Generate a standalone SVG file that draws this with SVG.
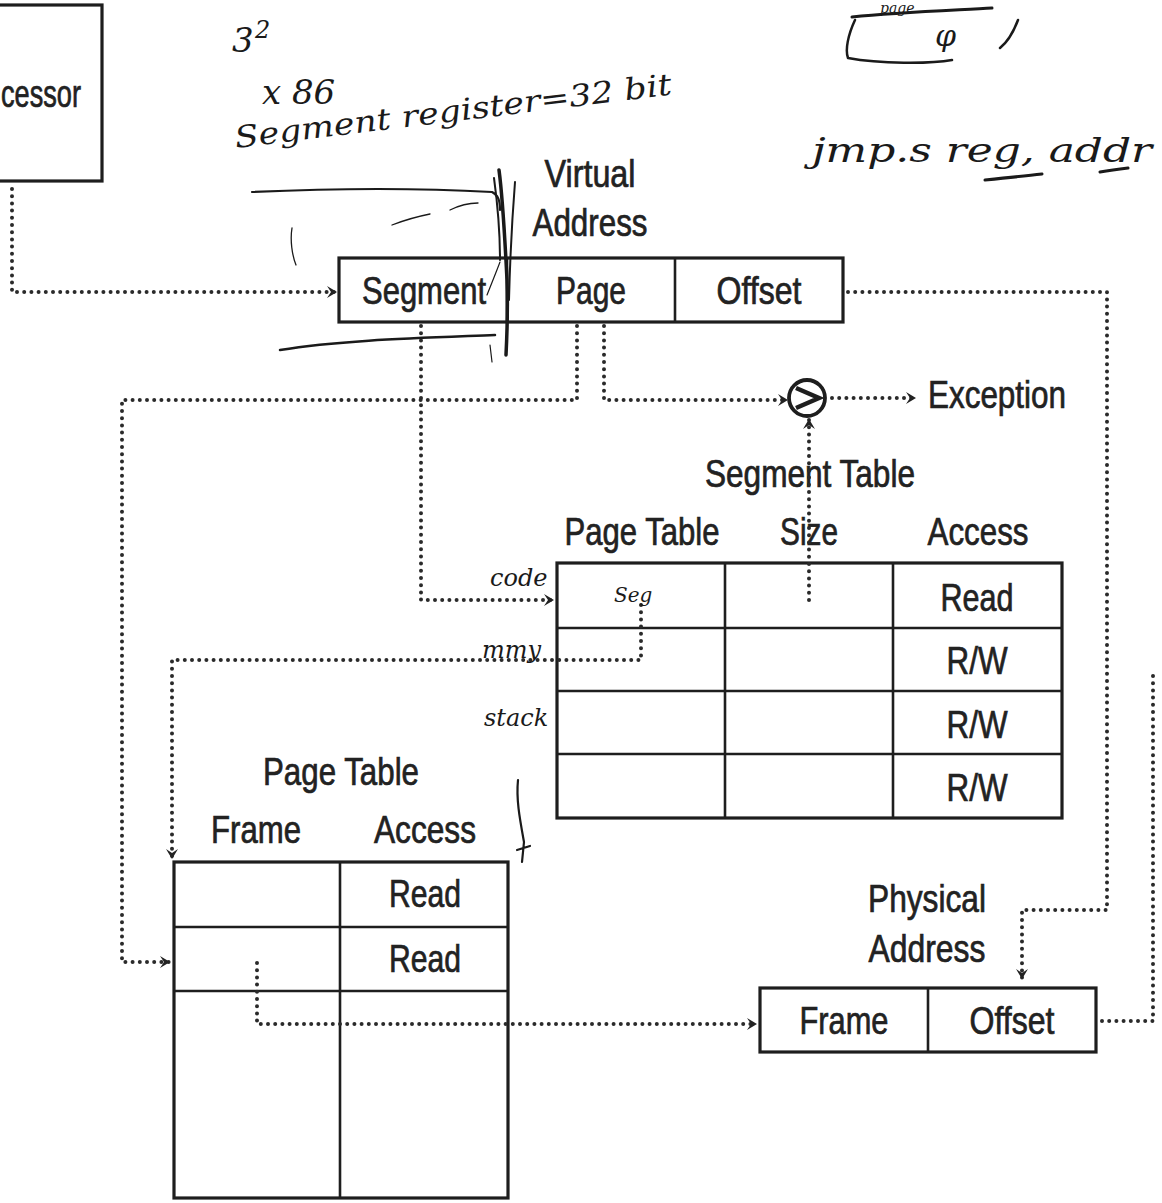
<svg xmlns="http://www.w3.org/2000/svg" width="1162" height="1203" viewBox="0 0 1162 1203">
<defs>
<style>
.box{fill:none;stroke:#1e1e1e;stroke-width:3.2}
.ln{stroke:#1e1e1e;stroke-width:2.6}
.t{font-family:"Liberation Sans",Arial,sans-serif;font-size:38px;fill:#222;text-anchor:middle;stroke:#222;stroke-width:0.7}
.dot{fill:none;stroke:#2a2a2a;stroke-width:4;stroke-dasharray:0 7.2;stroke-linecap:round;stroke-linejoin:round}
.hw{font-family:"DejaVu Serif","Liberation Serif",serif;font-style:italic;fill:#1a1a1a}
.sc{fill:none;stroke:#1a1a1a;stroke-linecap:round}
</style>
<marker id="ah" markerUnits="userSpaceOnUse" markerWidth="14" markerHeight="14" refX="10" refY="6" orient="auto">
<path d="M0,0 L10,6 L0,12 L4,6 Z" fill="#222"/>
</marker>
</defs>
<rect width="1162" height="1203" fill="#fff"/>

<g id="processor">
<rect class="box" x="-30" y="5" width="132" height="176"/>
<text class="t" x="1" y="107" style="text-anchor:start" textLength="80" lengthAdjust="spacingAndGlyphs">cessor</text>
</g>

<g id="virtual-address">
<text class="t" x="590" y="187" textLength="91" lengthAdjust="spacingAndGlyphs">Virtual</text>
<text class="t" x="590" y="236" textLength="115" lengthAdjust="spacingAndGlyphs">Address</text>
<rect class="box" x="339" y="258" width="504" height="64"/>
<line class="ln" x1="507" y1="258" x2="507" y2="322"/>
<line class="ln" x1="675" y1="258" x2="675" y2="322"/>
<text class="t" x="424" y="304" textLength="124" lengthAdjust="spacingAndGlyphs">Segment</text>
<text class="t" x="591" y="304" textLength="70" lengthAdjust="spacingAndGlyphs">Page</text>
<text class="t" x="759" y="304" textLength="85" lengthAdjust="spacingAndGlyphs">Offset</text>
</g>

<g id="comparator">
<circle cx="807" cy="398" r="18" fill="#fff" stroke="#1e1e1e" stroke-width="3.8"/>
<path d="M796,388 L819,398 L796,408" fill="none" stroke="#1e1e1e" stroke-width="4.5" stroke-linejoin="miter"/>
</g>

<g id="exception">
<text class="t" x="928" y="408" style="text-anchor:start" textLength="138" lengthAdjust="spacingAndGlyphs">Exception</text>
</g>

<g id="segment-table">
<text class="t" x="810" y="487" textLength="210" lengthAdjust="spacingAndGlyphs">Segment Table</text>
<text class="t" x="642" y="545" textLength="155" lengthAdjust="spacingAndGlyphs">Page Table</text>
<text class="t" x="809" y="545" textLength="58" lengthAdjust="spacingAndGlyphs">Size</text>
<text class="t" x="978" y="545" textLength="101" lengthAdjust="spacingAndGlyphs">Access</text>
<rect class="box" x="557" y="563" width="505" height="255"/>
<line class="ln" x1="725" y1="563" x2="725" y2="818"/>
<line class="ln" x1="893" y1="563" x2="893" y2="818"/>
<line class="ln" x1="557" y1="628" x2="1062" y2="628"/>
<line class="ln" x1="557" y1="691" x2="1062" y2="691"/>
<line class="ln" x1="557" y1="754" x2="1062" y2="754"/>
<text class="t" x="977" y="611" textLength="73" lengthAdjust="spacingAndGlyphs">Read</text>
<text class="t" x="977" y="674" textLength="61" lengthAdjust="spacingAndGlyphs">R/W</text>
<text class="t" x="977" y="738" textLength="61" lengthAdjust="spacingAndGlyphs">R/W</text>
<text class="t" x="977" y="801" textLength="61" lengthAdjust="spacingAndGlyphs">R/W</text>
</g>

<g id="page-table">
<text class="t" x="341" y="785" textLength="156" lengthAdjust="spacingAndGlyphs">Page Table</text>
<text class="t" x="256" y="843" textLength="90" lengthAdjust="spacingAndGlyphs">Frame</text>
<text class="t" x="425" y="843" textLength="102" lengthAdjust="spacingAndGlyphs">Access</text>
<rect class="box" x="174" y="862" width="334" height="336"/>
<line class="ln" x1="340" y1="862" x2="340" y2="1198"/>
<line class="ln" x1="174" y1="927" x2="508" y2="927"/>
<line class="ln" x1="174" y1="991" x2="508" y2="991"/>
<text class="t" x="425" y="907" textLength="72" lengthAdjust="spacingAndGlyphs">Read</text>
<text class="t" x="425" y="972" textLength="72" lengthAdjust="spacingAndGlyphs">Read</text>
</g>

<g id="physical-address">
<text class="t" x="927" y="912" textLength="118" lengthAdjust="spacingAndGlyphs">Physical</text>
<text class="t" x="927" y="962" textLength="117" lengthAdjust="spacingAndGlyphs">Address</text>
<rect class="box" x="760" y="988" width="336" height="64"/>
<line class="ln" x1="928" y1="988" x2="928" y2="1052"/>
<text class="t" x="844" y="1034" textLength="89" lengthAdjust="spacingAndGlyphs">Frame</text>
<text class="t" x="1012" y="1034" textLength="85" lengthAdjust="spacingAndGlyphs">Offset</text>
</g>

<g id="connectors">
<path class="dot" d="M12,189 V292 H337" marker-end="url(#ah)"/>
<path class="dot" d="M421,326 V600 H554" marker-end="url(#ah)"/>
<path class="dot" d="M577,326 V400 H122 V962 H170" marker-end="url(#ah)"/>
<path class="dot" d="M604,326 V400 H788" marker-end="url(#ah)"/>
<path class="dot" d="M832,398 H916" marker-end="url(#ah)"/>
<path class="dot" d="M809,600 V419" marker-end="url(#ah)"/>
<path class="dot" d="M641,605 V660 H172 V859" marker-end="url(#ah)"/>
<path class="dot" d="M257,963 V1024 H757" marker-end="url(#ah)"/>
<path class="dot" d="M848,292 H1107 V910 H1022 V979" marker-end="url(#ah)"/>
<path class="dot" d="M1102,1021 H1153 V676"/>
</g>

<g id="handwriting">
<text class="hw" x="232" y="52" font-size="34">3</text>
<text class="hw" x="255" y="38" font-size="24">2</text>
<text class="hw" x="262" y="104" font-size="34">x 86</text>
<text class="hw" x="236" y="148" font-size="30" transform="rotate(-7 236 148)" textLength="440" lengthAdjust="spacingAndGlyphs">Segment register=32 bit</text>
<text class="hw" x="812" y="162" font-size="34" textLength="340" lengthAdjust="spacingAndGlyphs">jmp.s  reg, addr</text>
<text class="hw" x="880" y="13" font-size="14">page</text>
<text class="hw" x="935" y="46" font-size="30">φ</text>
<path class="sc" stroke-width="3" d="M852,17 C900,12 960,10 992,8"/>
<path class="sc" stroke-width="2.5" d="M855,20 C848,35 845,50 848,58 C880,64 930,64 952,60 M1000,48 C1010,40 1015,28 1018,20"/>
<path class="sc" stroke-width="3" d="M985,180 C1005,178 1025,176 1042,174 M1100,172 C1112,170 1120,169 1128,168"/>
<text class="hw" x="490" y="586" font-size="24">code</text>
<text class="hw" x="482" y="658" font-size="24">mmy</text>
<text class="hw" x="484" y="726" font-size="24">stack</text>
<text class="hw" x="614" y="602" font-size="20">Seg</text>
<path class="sc" stroke-width="2.2" d="M252,192 C340,188 420,188 492,192 C498,195 500,200 500,210"/>
<path class="sc" stroke-width="1.3" d="M292,228 C290,240 292,255 296,265 M392,225 C410,218 425,215 430,214 M450,210 C460,205 470,203 478,203"/>
<path class="sc" stroke-width="3.5" d="M499,170 C503,200 505,240 507,280 C508,310 507,335 506,355"/>
<path class="sc" stroke-width="2" d="M494,178 C497,200 500,230 500,260 M515,182 C512,220 510,260 509,300"/>
<path class="sc" stroke-width="1.2" d="M487,295 C493,280 497,270 500,262 M490,345 L492,362"/>
<path class="sc" stroke-width="2.5" d="M280,350 C340,340 420,338 495,335"/>
<path class="sc" stroke-width="2.2" d="M518,780 C516,800 520,820 524,842 M517,850 L530,846 M524,842 L522,862"/>
</g>
</svg>
